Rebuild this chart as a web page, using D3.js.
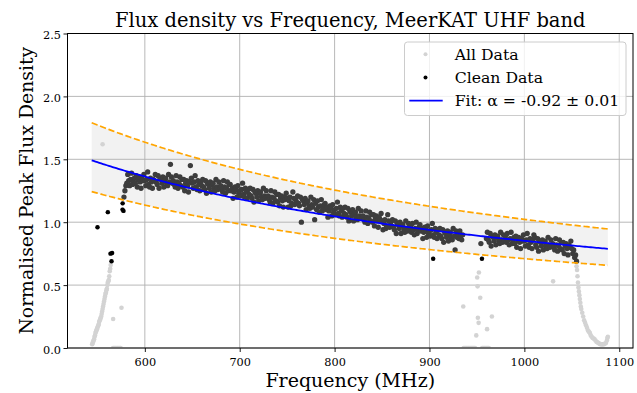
<!DOCTYPE html>
<html>
<head>
<meta charset="utf-8">
<script src="https://cdn.jsdelivr.net/npm/d3@7"></script>
<style>
  body { margin: 0; background: #fff; }
  svg { display: block; }
  text { font-family: "DejaVu Serif", serif; fill: #000; }
</style>
</head>
<body>
<div id="chart"></div>
<script>
// axis setup
const xTicks = [600, 700, 800, 900, 1000, 1100];
const yTicks = [0, 0.5, 1.0, 1.5, 2.0, 2.5];
const xLimits = [518.5, 1114.5];
const yLimits = [0, 2.5];

// power-law fit
const fitAlpha = -0.92;
const fitAlphaErr = 0.01;
const fitRefFreq = 544;
const fitRefFlux = 1.492;
const bandFactor = 1.2;
const fitRange = [544, 1088];

// flagged channels (All Data only)
const flaggedFreq = [
  544.5, 545, 545.5, 546, 546.5, 547, 547.5, 548, 548.5, 549,
  549.5, 550, 550.5, 551, 551.5, 552, 552.5, 553, 553.5, 554,
  554.5, 555, 555.5, 556, 556.5, 557, 557.5, 558, 558.5, 559,
  559.5, 560, 560.5, 561, 561.5, 562, 562.5, 563, 563.5, 564,
  555.5, 566.6, 575.4,
  566.5, 567.5, 568.5, 569.5, 570.5, 571.5, 572.5, 573.5, 574.5,
  935.6, 936, 937, 938, 939, 940, 941, 942, 943, 944, 945, 946, 947, 948,
  949.3, 950.3, 950.7, 951.0, 951.8, 952.1, 953.5,
  955.5, 956.5, 957.5, 958.5, 959.5, 960.5, 961.5, 962.5, 960.7, 965.8,
  1030.3,
  1055, 1055.5, 1056, 1056.5, 1057, 1057.5, 1058, 1058.5, 1059, 1059.5, 1060,
  1061, 1062, 1063, 1064, 1065, 1066, 1067, 1068, 1069, 1070,
  1071, 1072, 1073, 1074, 1075, 1076, 1077, 1078, 1079, 1080,
  1081, 1082, 1083, 1084, 1085, 1086, 1087, 1087.5, 1088
];
const flaggedFlux = [
  0.03, 0.04, 0.05, 0.06, 0.07, 0.09, 0.10, 0.12, 0.13, 0.14,
  0.15, 0.16, 0.17, 0.18, 0.19, 0.21, 0.22, 0.23, 0.24, 0.25,
  0.27, 0.29, 0.31, 0.33, 0.35, 0.37, 0.39, 0.41, 0.43, 0.44,
  0.46, 0.47, 0.50, 0.52, 0.53, 0.54, 0.57, 0.61, 0.63, 0.66,
  1.62, 0.23, 0.32,
  0.0, 0.0, 0.0, 0.0, 0.0, 0.0, 0.0, 0.0, 0.0,
  0.33, 0.0, 0.0, 0.0, 0.0, 0.0, 0.0, 0.0, 0.0, 0.0, 0.0, 0.0, 0.0, 0.0,
  0.10, 0.56, 0.49, 0.24, 0.20, 0.60, 0.40,
  0.0, 0.0, 0.0, 0.0, 0.0, 0.0, 0.0, 0.0, 0.15, 0.25,
  0.53,
  0.65, 0.62, 0.57, 0.52, 0.48, 0.45, 0.42, 0.39, 0.36, 0.33, 0.31,
  0.28, 0.25, 0.22, 0.20, 0.18, 0.16, 0.14, 0.13, 0.12, 0.10,
  0.09, 0.08, 0.075, 0.07, 0.06, 0.05, 0.045, 0.04, 0.035, 0.03,
  0.03, 0.028, 0.03, 0.03, 0.035, 0.04, 0.06, 0.08, 0.09
];

// clean channels, 1 MHz steps from each segment start
const cloudStart = [578, 960];
const cloudFluxLow = [
  1.20, 1.25,
  1.29, 1.31, 1.38, 1.33, 1.29, 1.34, 1.39, 1.30, 1.32, 1.35,
  1.31, 1.37, 1.28, 1.34, 1.36, 1.32, 1.27, 1.35, 1.33, 1.38,
  1.33, 1.29, 1.34, 1.40, 1.30, 1.28, 1.35, 1.32, 1.27, 1.34,
  1.33, 1.38, 1.32, 1.30, 1.37, 1.27, 1.35, 1.34, 1.31, 1.36,
  1.28, 1.34, 1.35, 1.31, 1.29, 1.38, 1.32, 1.46, 1.36, 1.31,
  1.33, 1.30, 1.28, 1.37, 1.32, 1.27, 1.31, 1.36, 1.29, 1.34,
  1.28, 1.34, 1.25, 1.31, 1.33, 1.29, 1.24, 1.32, 1.45, 1.35,
  1.31, 1.27, 1.32, 1.37, 1.28, 1.26, 1.33, 1.30, 1.25, 1.32,
  1.29, 1.34, 1.28, 1.26, 1.33, 1.23, 1.31, 1.30, 1.27, 1.32,
  1.24, 1.30, 1.31, 1.27, 1.25, 1.34, 1.28, 1.26, 1.32, 1.27,
  1.29, 1.26, 1.24, 1.33, 1.28, 1.23, 1.27, 1.32, 1.25, 1.30,
  1.30, 1.25, 1.27, 1.19, 1.24, 1.28, 1.26, 1.20, 1.29, 1.23,
  1.25, 1.21, 1.26, 1.31, 1.22, 1.20, 1.27, 1.24, 1.19, 1.26,
  1.22, 1.27, 1.21, 1.19, 1.26, 1.16, 1.24, 1.23, 1.20, 1.25,
  1.17, 1.23, 1.24, 1.20, 1.18, 1.27, 1.21, 1.19, 1.25, 1.20,
  1.21, 1.18, 1.16, 1.25, 1.20, 1.15, 1.19, 1.24, 1.17, 1.22,
  1.16, 1.22, 1.13, 1.19, 1.21, 1.17, 1.12, 1.20, 1.18, 1.23,
  1.19, 1.12, 1.17, 1.20, 1.13, 1.15, 1.24, 1.19, 1.14, 1.18,
  1.16, 1.21, 1.15, 1.13, 1.20, 1.00, 1.18, 1.17, 1.14, 1.19,
  1.10, 1.16, 1.17, 1.13, 1.11, 1.20, 1.14, 1.12, 1.18, 1.02,
  1.15, 1.10, 1.17, 1.12, 1.08, 1.13, 1.18, 1.09, 1.11, 1.14,
  1.15, 1.10, 1.12, 1.04, 1.09, 1.13, 1.11, 1.05, 1.14, 1.08,
  1.10, 1.06, 1.11, 1.16, 1.07, 1.05, 1.12, 1.09, 1.04, 1.11,
  1.07, 1.12, 1.06, 1.04, 1.11, 1.01, 1.09, 1.08, 1.05, 1.10,
  1.01, 1.07, 1.08, 1.04, 1.02, 1.11, 1.05, 1.03, 1.09, 1.04,
  1.05, 1.02, 1.00, 1.09, 1.04, 0.99, 1.03, 1.08, 1.01, 1.06,
  1.00, 1.06, 0.97, 1.03, 1.05, 1.01, 0.96, 1.04, 1.02, 1.07,
  1.01, 0.94, 0.99, 1.02, 0.95, 0.97, 1.06, 1.01, 0.96, 1.00,
  0.97, 1.02, 0.96, 0.94, 1.01, 0.91, 0.99, 0.98, 0.95, 1.00,
  0.91, 0.97, 0.98, 0.94, 0.92, 1.01, 0.95, 0.93, 0.99, 0.94,
  0.97, 0.92, 0.99, 0.94, 0.90, 0.95, 1.00, 0.91, 0.93, 0.96,
  0.98, 0.93, 0.95, 0.87, 0.92, 0.96, 0.94, 0.88, 0.97, 0.91,
  0.93, 0.89, 0.94, 0.99, 0.90, 0.88, 0.95, 0.92, 0.87, 0.94,
  0.90, 0.95, 0.89, 0.87, 0.94, 0.84, 0.92, 0.91, 0.88, 0.93,
  0.85, 0.91, 0.92, 0.88, 0.86, 0.95, 0.89, 0.78, 0.93, 0.88,
  0.91, 0.87, 0.93, 0.89, 0.86, 0.90
];
const cloudFluxHigh = [
  0.87, 0.92, 0.86, 0.84, 0.91, 0.81, 0.89, 0.88, 0.85, 0.90,
  0.82, 0.88, 0.89, 0.85, 0.83, 0.92, 0.86, 0.84, 0.90, 0.85,
  0.89, 0.84, 0.91, 0.86, 0.82, 0.87, 0.92, 0.83, 0.85, 0.88,
  0.83, 0.89, 0.80, 0.86, 0.88, 0.84, 0.79, 0.87, 0.85, 0.90,
  0.85, 0.81, 0.86, 0.91, 0.82, 0.80, 0.87, 0.84, 0.79, 0.86,
  0.90, 0.88, 0.82, 0.80, 0.87, 0.77, 0.85, 0.84, 0.81, 0.86,
  0.78, 0.84, 0.85, 0.81, 0.79, 0.88, 0.82, 0.80, 0.86, 0.81,
  0.83, 0.80, 0.78, 0.87, 0.82, 0.77, 0.81, 0.86, 0.79, 0.84,
  0.78, 0.84, 0.75, 0.81, 0.83, 0.79, 0.74, 0.82, 0.80, 0.85,
  0.79, 0.75, 0.78, 0.72, 0.74, 0.69
];
const cloudExtraFreq = [954.2];
const cloudExtraFlux = [0.83];

// isolated clean points outside the band
const outlierFreq = [550.1, 561.0, 563.8, 564.9, 565.5, 576.5, 576.6, 577.5, 903.9, 955.3];
const outlierFlux = [0.96, 1.08, 0.75, 0.69, 0.755, 1.10, 1.15, 1.09, 0.71, 0.71];

const width = 637, height = 393;
const plot = { left: 67.5, right: 633, top: 33.5, bottom: 348 };

const x = d3.scaleLinear().domain(xLimits).range([plot.left, plot.right]);
const y = d3.scaleLinear().domain(yLimits).range([plot.bottom, plot.top]);

const svg = d3.select("#chart").append("svg")
  .attr("width", width)
  .attr("height", height);

svg.append("clipPath").attr("id", "clip")
  .append("rect")
  .attr("x", plot.left).attr("y", plot.top)
  .attr("width", plot.right - plot.left)
  .attr("height", plot.bottom - plot.top);

// build point lists
const cloud = [];
cloudFluxLow.forEach((v, i) => cloud.push([cloudStart[0] + i, v]));
cloudFluxHigh.forEach((v, i) => cloud.push([cloudStart[1] + i, v]));
cloudExtraFreq.forEach((f, i) => cloud.push([f, cloudExtraFlux[i]]));
const outliers = outlierFreq.map((f, i) => [f, outlierFlux[i]]);
const allData = flaggedFreq.map((f, i) => [f, flaggedFlux[i]]).concat(cloud, outliers);

const fitAt = f => fitRefFlux * Math.pow(f / fitRefFreq, fitAlpha);
const fitX = d3.range(fitRange[0], fitRange[1], 2).concat([fitRange[1]]);

const g = svg.append("g").attr("clip-path", "url(#clip)");

// shaded band
g.append("path")
  .datum(fitX)
  .attr("fill", "#808080")
  .attr("fill-opacity", 0.1)
  .attr("d", d3.area()
    .x(d => x(d))
    .y0(d => y(fitAt(d) / bandFactor))
    .y1(d => y(fitAt(d) * bandFactor)));

// grid
svg.append("g").selectAll("line").data(xTicks).join("line")
  .attr("x1", d => x(d)).attr("x2", d => x(d))
  .attr("y1", plot.top).attr("y2", plot.bottom)
  .attr("stroke", "#b0b0b0").attr("stroke-width", 0.9);
svg.append("g").selectAll("line").data(yTicks).join("line")
  .attr("x1", plot.left).attr("x2", plot.right)
  .attr("y1", d => y(d)).attr("y2", d => y(d))
  .attr("stroke", "#b0b0b0").attr("stroke-width", 0.9);

const pts = svg.append("g").attr("clip-path", "url(#clip)");
pts.append("g").selectAll("circle").data(allData).join("circle")
  .attr("cx", d => x(d[0])).attr("cy", d => y(d[1])).attr("r", 2.3)
  .attr("fill", "#d3d3d3");
pts.append("g").selectAll("circle").data(cloud).join("circle")
  .attr("cx", d => x(d[0])).attr("cy", d => y(d[1])).attr("r", 2.65)
  .attr("fill", "#3d3d3d");
pts.append("g").selectAll("circle").data(outliers).join("circle")
  .attr("cx", d => x(d[0])).attr("cy", d => y(d[1])).attr("r", 2.2)
  .attr("fill", "#000");

// fit and band edges
const line = k => d3.line().x(d => x(d)).y(d => y(fitAt(d) * k));
pts.append("path").datum(fitX)
  .attr("fill", "none").attr("stroke", "#0000ff").attr("stroke-width", 1.8)
  .attr("d", line(1));
[bandFactor, 1 / bandFactor].forEach(k => {
  pts.append("path").datum(fitX)
    .attr("fill", "none").attr("stroke", "#ffa500").attr("stroke-width", 1.7)
    .attr("stroke-dasharray", "6.3,2.7")
    .attr("d", line(k));
});

// axes
const xAxis = svg.append("g")
  .attr("transform", `translate(0,${plot.bottom})`)
  .call(d3.axisBottom(x).tickValues(xTicks).tickSize(4).tickPadding(5.5).tickSizeOuter(0)
    .tickFormat(d3.format("d")));
const yAxis = svg.append("g")
  .attr("transform", `translate(${plot.left},0)`)
  .call(d3.axisLeft(y).tickValues(yTicks).tickSize(4).tickPadding(2.5).tickSizeOuter(0)
    .tickFormat(d3.format(".1f")));
[xAxis, yAxis].forEach(a => {
  a.select(".domain").remove();
  a.selectAll("text").attr("font-family", "DejaVu Serif").attr("font-size", 11.3);
  a.selectAll("line").attr("stroke", "#000").attr("stroke-width", 0.9);
});
yAxis.selectAll("text").attr("dy", "0.46em");

// frame
svg.append("rect")
  .attr("x", plot.left).attr("y", plot.top)
  .attr("width", plot.right - plot.left).attr("height", plot.bottom - plot.top)
  .attr("fill", "none").attr("stroke", "#000").attr("stroke-width", 1);

// labels
svg.append("text")
  .attr("x", (plot.left + plot.right) / 2).attr("y", 26.5)
  .attr("text-anchor", "middle").attr("font-size", 19.5)
  .text("Flux density vs Frequency, MeerKAT UHF band");
svg.append("text")
  .attr("x", (plot.left + plot.right) / 2).attr("y", 387)
  .attr("text-anchor", "middle").attr("font-size", 19)
  .text("Frequency (MHz)");
svg.append("text")
  .attr("transform", `translate(33.3,${(plot.top + plot.bottom) / 2}) rotate(-90)`)
  .attr("text-anchor", "middle").attr("font-size", 18.8)
  .text("Normalised Peak Flux Density");

// legend
const leg = svg.append("g");
leg.append("rect")
  .attr("x", 404.5).attr("y", 42).attr("width", 221.5).attr("height", 73.5)
  .attr("rx", 3).attr("fill", "#fff").attr("fill-opacity", 0.8)
  .attr("stroke", "#cccccc").attr("stroke-width", 1);
const legendItems = [
  { label: "All Data", kind: "dot", color: "#d3d3d3" },
  { label: "Clean Data", kind: "dot", color: "#000" },
  { label: `Fit: \u03b1 = ${fitAlpha.toFixed(2)} \u00b1 ${fitAlphaErr.toFixed(2)}`, kind: "line", color: "#0000ff" }
];
legendItems.forEach((it, i) => {
  const cy = 54.3 + i * 23.2;
  if (it.kind === "dot") {
    leg.append("circle").attr("cx", 425.5).attr("cy", cy).attr("r", 2).attr("fill", it.color);
  } else {
    leg.append("line").attr("x1", 409.3).attr("x2", 442.7).attr("y1", cy).attr("y2", cy)
      .attr("stroke", it.color).attr("stroke-width", 1.8);
  }
  leg.append("text").attr("x", 454.7).attr("y", cy + 5.7)
    .attr("font-size", 15.7).text(it.label);
});
</script>
</body>
</html>
